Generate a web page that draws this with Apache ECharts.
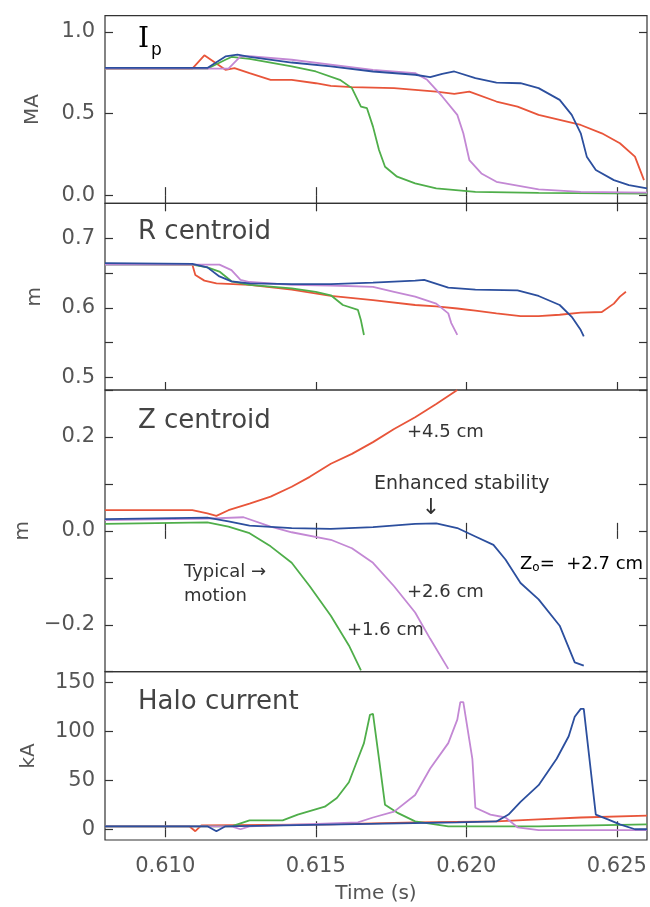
<!DOCTYPE html>
<html>
<head>
<meta charset="utf-8">
<script src="https://cdn.jsdelivr.net/npm/echarts@6/dist/echarts.min.js"></script>
<style>
html, body { margin: 0; padding: 0; background: #fff; }
#chart { width: 650px; height: 907px; }
</style>
</head>
<body>
<div id="chart"></div>
<script>
// time axis
const timeTicks = [0.610, 0.615, 0.620, 0.625];

// Ip (MA)
const ipRed = [[0.608,0.775],[0.6109,0.775],[0.6113,0.857],[0.6120,0.768],[0.6123,0.779],[0.6128,0.748],[0.6135,0.707],[0.6142,0.707],[0.6150,0.686],[0.6155,0.670],[0.6162,0.662],[0.6176,0.656],[0.6190,0.635],[0.6196,0.621],[0.6201,0.635],[0.6210,0.574],[0.6217,0.543],[0.6224,0.492],[0.6231,0.461],[0.6238,0.430],[0.6245,0.379],[0.6251,0.318],[0.6256,0.236],[0.6259,0.092]];
const ipGreen = [[0.608,0.775],[0.6114,0.775],[0.6120,0.83],[0.6122,0.847],[0.6128,0.835],[0.6142,0.789],[0.6150,0.758],[0.6158,0.707],[0.6162,0.656],[0.6165,0.543],[0.6167,0.533],[0.6169,0.42],[0.6171,0.277],[0.6173,0.174],[0.6177,0.113],[0.6183,0.072],[0.6190,0.041],[0.6203,0.02],[0.6224,0.014],[0.626,0.01]];
const ipPurple = [[0.608,0.775],[0.6121,0.775],[0.6125,0.85],[0.6128,0.852],[0.6142,0.83],[0.6155,0.80],[0.6169,0.768],[0.6183,0.748],[0.6187,0.707],[0.6192,0.605],[0.6197,0.492],[0.6199,0.379],[0.6201,0.215],[0.6205,0.133],[0.6210,0.082],[0.6224,0.035],[0.6238,0.02],[0.626,0.015]];
const ipBlue = [[0.608,0.78],[0.6114,0.78],[0.6120,0.85],[0.6124,0.861],[0.6128,0.848],[0.6142,0.813],[0.6155,0.789],[0.6169,0.758],[0.6183,0.738],[0.6188,0.723],[0.6192,0.744],[0.6196,0.758],[0.6203,0.717],[0.6210,0.69],[0.6218,0.686],[0.6224,0.656],[0.6231,0.584],[0.6235,0.492],[0.6238,0.379],[0.6240,0.236],[0.6243,0.154],[0.6249,0.092],[0.6254,0.061],[0.626,0.041]];

// R centroid (m)
const rRed = [[0.608,0.663],[0.6109,0.662],[0.6110,0.647],[0.6113,0.639],[0.6117,0.635],[0.6128,0.633],[0.6142,0.626],[0.6155,0.617],[0.6169,0.611],[0.6183,0.604],[0.6190,0.602],[0.6197,0.599],[0.6203,0.596],[0.6210,0.592],[0.6218,0.588],[0.6224,0.588],[0.6231,0.590],[0.6238,0.593],[0.6245,0.594],[0.6249,0.606],[0.6251,0.616],[0.6253,0.623]];
const rGreen = [[0.608,0.662],[0.6109,0.662],[0.6114,0.658],[0.6118,0.652],[0.6122,0.638],[0.6128,0.633],[0.6142,0.628],[0.6150,0.623],[0.6155,0.618],[0.6159,0.604],[0.6164,0.597],[0.6165,0.582],[0.6166,0.561]];
const rPurple = [[0.608,0.662],[0.6118,0.662],[0.6122,0.654],[0.6125,0.640],[0.6128,0.637],[0.6142,0.633],[0.6155,0.632],[0.6169,0.630],[0.6176,0.623],[0.6183,0.616],[0.6190,0.606],[0.6194,0.592],[0.6195,0.578],[0.6197,0.561]];
const rBlue = [[0.608,0.664],[0.6109,0.663],[0.6114,0.658],[0.6118,0.645],[0.6122,0.638],[0.6128,0.635],[0.6142,0.634],[0.6155,0.634],[0.6169,0.636],[0.6183,0.639],[0.6186,0.640],[0.6194,0.629],[0.6203,0.626],[0.6217,0.625],[0.6224,0.617],[0.6231,0.604],[0.6235,0.587],[0.6238,0.568],[0.6239,0.559]];

// Z centroid (m)
const zRed = [[0.608,0.044],[0.6109,0.044],[0.6114,0.037],[0.6117,0.032],[0.6121,0.044],[0.6128,0.058],[0.6135,0.073],[0.6142,0.094],[0.6148,0.115],[0.6155,0.143],[0.6162,0.164],[0.6169,0.189],[0.6176,0.217],[0.6183,0.242],[0.6190,0.270],[0.6197,0.30]];
const zGreen = [[0.608,0.015],[0.6114,0.018],[0.6121,0.009],[0.6128,-0.005],[0.6135,-0.033],[0.6142,-0.068],[0.6148,-0.118],[0.6155,-0.181],[0.6161,-0.244],[0.6165,-0.297]];
const zPurple = [[0.608,0.023],[0.6114,0.026],[0.6126,0.029],[0.6135,0.009],[0.6142,-0.003],[0.6155,-0.019],[0.6162,-0.037],[0.6169,-0.068],[0.6176,-0.118],[0.6183,-0.174],[0.6188,-0.230],[0.6194,-0.294]];
const zBlue = [[0.608,0.025],[0.6114,0.028],[0.6121,0.020],[0.6128,0.011],[0.6142,0.006],[0.6155,0.004],[0.6169,0.008],[0.6183,0.015],[0.6190,0.016],[0.6197,0.006],[0.6203,-0.012],[0.6209,-0.030],[0.6213,-0.061],[0.6218,-0.111],[0.6224,-0.146],[0.6231,-0.202],[0.6236,-0.280],[0.6239,-0.287]];

// Halo current (kA)
const hRed = [[0.608,3],[0.6108,3],[0.6110,-2],[0.6112,4],[0.6155,5],[0.6183,7],[0.6210,8],[0.6224,10],[0.6238,12],[0.626,14]];
const hGreen = [[0.608,3],[0.6122,3],[0.6128,9],[0.6139,9],[0.6144,15],[0.6153,23],[0.6157,32],[0.6161,48],[0.6164,72],[0.6166,88],[0.6168,117],[0.6169,118],[0.6171,72],[0.6173,25],[0.6177,17],[0.6183,8],[0.6194,3],[0.6224,3],[0.626,5]];
const hPurple = [[0.608,3],[0.6122,3],[0.6125,0],[0.6128,3],[0.6164,7],[0.6169,12],[0.6176,18],[0.6183,35],[0.6188,62],[0.6194,88],[0.6197,112],[0.6198,130],[0.6199,130],[0.6202,72],[0.6203,22],[0.6208,15],[0.6213,12],[0.6217,2],[0.6224,-1],[0.626,-1]];
const hBlue = [[0.608,3],[0.6114,3],[0.6117,-2],[0.6120,3],[0.6197,7],[0.6210,8],[0.6214,15],[0.6218,28],[0.6224,45],[0.6230,72],[0.6234,95],[0.6236,115],[0.6238,123],[0.6239,123],[0.6243,15],[0.6247,10],[0.6251,5],[0.6256,0],[0.626,0]];

const colors = ['#e8553a', '#4fae4a', '#c388d4', '#2c4f9e'];
const font = 'DejaVu Sans';

const panels = [
  { top: 15.7, height: 187.6, min: -0.05, max: 1.1, ticks: [0, 0.5, 1.0], labels: [0, 0.5, 1.0], digits: 1, name: 'MA', gap: 62, lines: [ipRed, ipGreen, ipPurple, ipBlue] },
  { top: 203.3, height: 186.7, min: 0.482, max: 0.75, ticks: [0.5, 0.55, 0.6, 0.65, 0.7], labels: [0.5, 0.6, 0.7], digits: 1, name: 'm', gap: 60, lines: [rRed, rGreen, rPurple, rBlue] },
  { top: 390, height: 281.7, min: -0.3, max: 0.3, ticks: [-0.3, -0.2, -0.1, 0, 0.1, 0.2, 0.3], labels: [-0.2, 0, 0.2], digits: 1, name: 'm', gap: 60, lines: [zRed, zGreen, zPurple, zBlue] },
  { top: 671.7, height: 168.3, min: -11, max: 161, ticks: [0, 50, 100, 150], labels: [0, 50, 100, 150], digits: 0, name: 'kA', gap: 66, lines: [hRed, hGreen, hPurple, hBlue] }
];

let grid = [], xAxis = [], yAxis = [], series = [];
const tickStyle = { show: true, inside: true, length: 8, lineStyle: { color: '#333', width: 1.2 } };

panels.forEach((p, i) => {
  grid.push({ left: 105, width: 542, top: p.top, height: p.height, show: true, borderColor: '#333', borderWidth: 1.2, backgroundColor: 'transparent' });
  const last = i === panels.length - 1;
  // bottom and top time axes
  xAxis.push({
    type: 'value', gridIndex: i, min: 0.608, max: 0.626, position: 'bottom',
    axisLine: { show: false }, splitLine: { show: false },
    axisTick: { ...tickStyle, customValues: timeTicks },
    axisLabel: { show: last, customValues: timeTicks, margin: 16, color: '#555', fontFamily: font, fontSize: 21, formatter: v => v.toFixed(3) },
    name: last ? 'Time (s)' : '', nameLocation: 'middle', nameGap: 44,
    nameTextStyle: { color: '#555', fontFamily: font, fontSize: 20 }
  });
  xAxis.push({
    type: 'value', gridIndex: i, min: 0.608, max: 0.626, position: 'top',
    axisLine: { show: false }, splitLine: { show: false },
    axisTick: { ...tickStyle, customValues: timeTicks },
    axisLabel: { show: false }
  });
  yAxis.push({
    type: 'value', gridIndex: i, min: p.min, max: p.max, position: 'left',
    axisLine: { show: false }, splitLine: { show: false },
    axisTick: { ...tickStyle, customValues: p.ticks },
    axisLabel: {
      customValues: p.labels, margin: 10, color: '#555', fontFamily: font, fontSize: 21,
      formatter: v => (v < -1e-9 ? '\u2212' : '') + Math.abs(v).toFixed(p.digits)
    },
    name: p.name, nameLocation: 'middle', nameGap: p.gap, nameRotate: 90,
    nameTextStyle: { color: '#555', fontFamily: font, fontSize: 20 }
  });
  yAxis.push({
    type: 'value', gridIndex: i, min: p.min, max: p.max, position: 'right',
    axisLine: { show: false }, splitLine: { show: false },
    axisTick: { ...tickStyle, customValues: p.ticks },
    axisLabel: { show: false }
  });
  p.lines.forEach((d, k) => {
    series.push({
      type: 'line', xAxisIndex: i * 2, yAxisIndex: i * 2, data: d,
      showSymbol: false, symbol: 'none', clip: true, animation: false,
      lineStyle: { color: colors[k], width: 1.8 }
    });
  });
});

const txt = (text, x, y, size, color, extra) => ({
  type: 'text', x: x, y: y, z: 100,
  style: Object.assign({ text: text, font: size + 'px "' + font + '"', fill: color || '#444', align: 'left', verticalAlign: 'middle' }, extra || {})
});

const graphic = [
  { type: 'text', x: 138, y: 40, z: 100, style: { text: '{a|I}{b|p}', verticalAlign: 'middle', rich: { a: { fontFamily: 'DejaVu Serif', fontSize: 28, color: '#444' }, b: { fontFamily: font, fontSize: 17, color: '#444', padding: [22, 0, 0, 2] } } } },
  txt('R centroid', 138, 232, 26, '#444'),
  txt('Z centroid', 138, 421, 26, '#444'),
  txt('Halo current', 138, 702, 26, '#444'),
  txt('+4.5 cm', 407, 432, 18, '#333'),
  txt('Enhanced stability', 374, 484, 19, '#333'),
  txt('\u2193', 431, 508, 22, '#333', { align: 'center' }),
  { type: 'text', x: 520, y: 564, z: 100, style: { text: '{a|Z}{b|o}{a|=  +2.7 cm}', verticalAlign: 'middle', rich: { a: { fontFamily: font, fontSize: 18, color: '#333' }, b: { fontFamily: font, fontSize: 12, color: '#333', padding: [8, 0, 0, 0] } } } },
  txt('Typical \u2192', 184, 572, 18, '#333'),
  txt('motion', 184, 596, 18, '#333'),
  txt('+2.6 cm', 407, 592, 18, '#333'),
  txt('+1.6 cm', 347, 630, 18, '#333')
];

const chart = echarts.init(document.getElementById('chart'), null, { renderer: 'canvas' });
chart.setOption({
  backgroundColor: '#fff',
  animation: false,
  grid: grid,
  xAxis: xAxis,
  yAxis: yAxis,
  series: series,
  graphic: graphic
});
</script>
</body>
</html>
